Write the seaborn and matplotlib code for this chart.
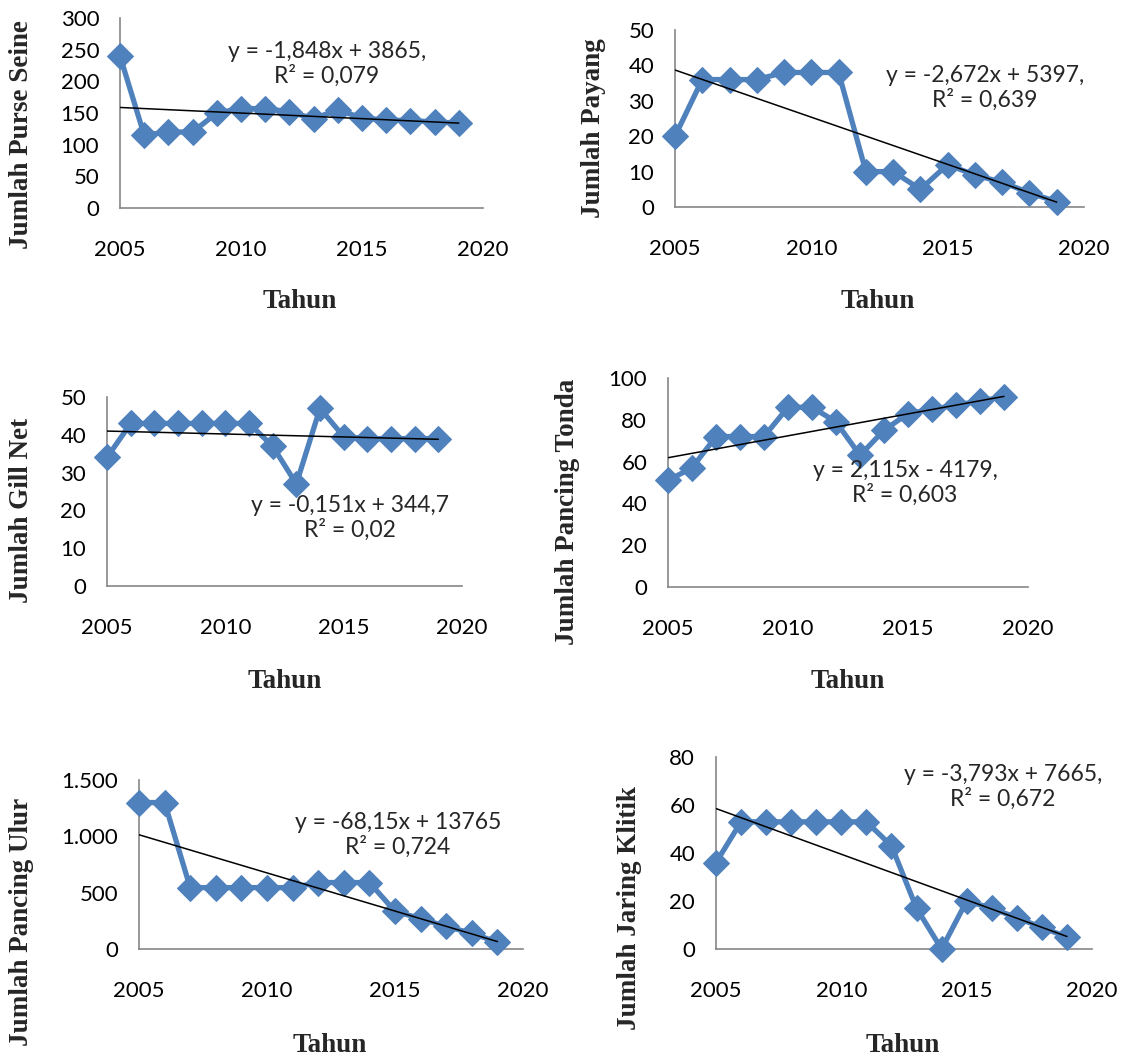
import numpy as np
import pandas as pd
import seaborn as sns
import matplotlib.pyplot as plt
from matplotlib.ticker import FuncFormatter

YEARS = list(range(2005, 2020))

PURSE_SEINE = [240, 115, 120, 120, 150, 157, 157, 152, 141, 155, 142, 139, 138, 136, 134]
PAYANG = [20, 36, 36, 36, 38, 38, 38, 10, 10, 5, 12, 9, 7, 4, 1.5]
GILL_NET = [34, 43, 43, 43, 43, 43, 43, 37, 27, 47, 39.5, 39, 39, 39, 39]
PANCING_TONDA = [51, 57, 72, 72, 72, 86, 86, 79, 63, 75, 83, 85, 87, 89, 91]
PANCING_ULUR = [1300, 1300, 545, 545, 545, 545, 545, 590, 590, 590, 335, 270, 200, 140, 60]
JARING_KLITIK = [36, 53, 53, 53, 53, 53, 53, 43, 17, 0, 20, 17, 13, 9, 5]

Y_LABELS = ["Jumlah Purse Seine", "Jumlah Payang", "Jumlah Gill Net",
            "Jumlah Pancing Tonda", "Jumlah Pancing Ulur", "Jumlah Jaring Klitik"]
EQUATIONS = ["y = -1,848x + 3865,\nR² = 0,079",
             "y = -2,672x + 5397,\nR² = 0,639",
             "y = -0,151x + 344,7\nR² = 0,02",
             "y = 2,115x - 4179,\nR² = 0,603",
             "y = -68,15x + 13765\nR² = 0,724",
             "y = -3,793x + 7665,\nR² = 0,672"]
Y_MAX = [300, 50, 50, 100, 1500, 80]
Y_STEP = [50, 10, 10, 20, 500, 20]

W, H = 1126, 1057
BLUE = "#4F81BD"
AXIS_GRAY = "#868686"
TICK_FONT = "Lato"
LABEL_FONT = "Liberation Serif"

# panel boxes in pixels: left, top, right, bottom
BOXES = [(120, 18, 483, 208), (675, 30, 1084, 207),
         (107, 397, 462, 586), (668, 378, 1028, 587),
         (139, 780, 523, 949), (716, 757, 1092, 949)]
# y label centre, x label centre, equation centre (pixels)
YLAB_POS = [(22, 135), (593, 128), (22, 510), (568, 512), (22, 922), (630, 908)]
XLAB_POS = [(300, 302), (878, 302), (285, 682), (848, 682), (330, 1045), (903, 1045)]
EQ_POS = [(327, 64), (985, 88), (350, 518), (905, 483), (398, 835), (1003, 787)]

sns.set_style("white")
plt.rcParams['font.family'] = [TICK_FONT, 'DejaVu Sans']

fig = plt.figure(figsize=(W / 100, H / 100), dpi=100)

series = [PURSE_SEINE, PAYANG, GILL_NET, PANCING_TONDA, PANCING_ULUR, JARING_KLITIK]

for i, values in enumerate(series):
    l, t, r, b = BOXES[i]
    ax = fig.add_axes([l / W, 1 - b / H, (r - l) / W, (b - t) / H])
    df = pd.DataFrame({"Tahun": YEARS, "Jumlah": values})

    sns.lineplot(data=df, x="Tahun", y="Jumlah", ax=ax, color=BLUE, linewidth=3.8,
                 marker="D", markersize=13, markeredgecolor=BLUE, clip_on=False, zorder=3)
    sns.regplot(data=df, x="Tahun", y="Jumlah", ax=ax, scatter=False, ci=None,
                line_kws=dict(color="black", linewidth=1.1, zorder=4))

    ax.set_xlim(2005, 2020)
    ax.set_ylim(0, Y_MAX[i])
    ax.set_xticks([2005, 2010, 2015, 2020])
    ax.set_yticks(np.arange(0, Y_MAX[i] + 1, Y_STEP[i]))
    if i == 4:
        ax.yaxis.set_major_formatter(FuncFormatter(lambda v, p: f"{int(v):,}".replace(",", ".")))
    ax.tick_params(axis="both", length=0, labelsize=16, colors="black")
    ax.tick_params(axis="x", pad=23)
    ax.tick_params(axis="y", pad=15)
    ax.set_xlabel("")
    ax.set_ylabel("")
    for side in ["top", "right"]:
        ax.spines[side].set_visible(False)
    for side in ["left", "bottom"]:
        ax.spines[side].set_color(AXIS_GRAY)
        ax.spines[side].set_linewidth(1.2)

    ex, ey = EQ_POS[i]
    fig.text(ex / W, 1 - ey / H, EQUATIONS[i], ha="center", va="center",
             fontsize=16.5, linespacing=1.15)
    yx, yy = YLAB_POS[i]
    fig.text(yx / W, 1 - yy / H, Y_LABELS[i], rotation=90, ha="center", va="center",
             fontsize=19.5, fontweight="bold", family=LABEL_FONT)
    xx, xy = XLAB_POS[i]
    fig.text(xx / W, 1 - xy / H, "Tahun", ha="center", va="center",
             fontsize=19.5, fontweight="bold", family=LABEL_FONT)

fig.savefig("out.png", dpi=100)
